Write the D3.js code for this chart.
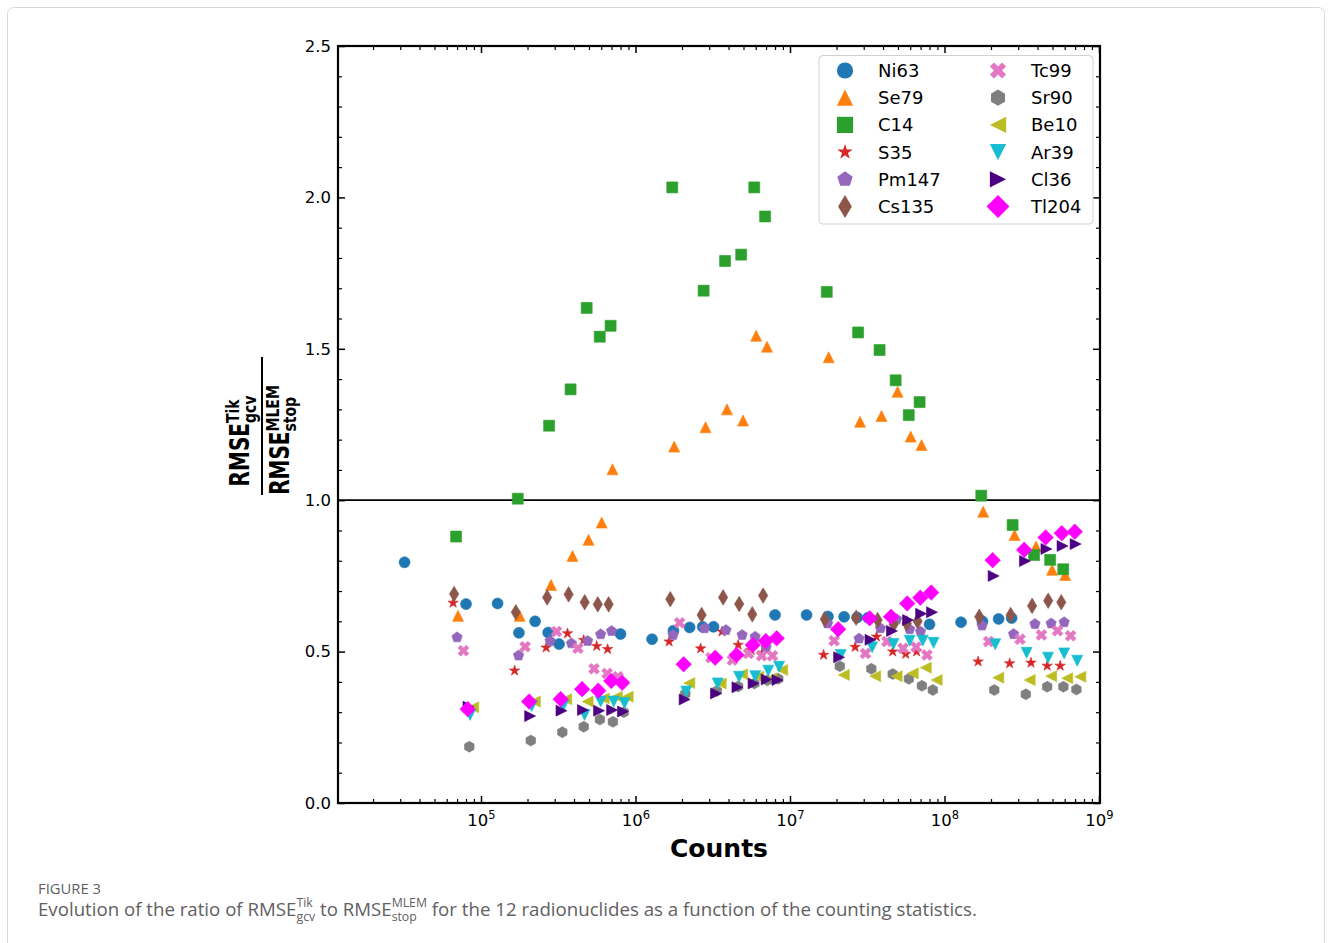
<!DOCTYPE html>
<html>
<head>
<meta charset="utf-8">
<script src="https://cdn.jsdelivr.net/npm/d3@7"></script>
<style>
  body { margin: 0; background: #fff; }
  svg { display: block; }
  text { white-space: pre; }
</style>
</head>
<body>
<svg id="chart" width="1332" height="943"></svg>
<script>
// Data: counts (x) and RMSE ratio (y) for each radionuclide

const nuclides = ['Ni63', 'Se79', 'C14', 'S35', 'Pm147', 'Cs135', 'Tc99', 'Sr90', 'Be10', 'Ar39', 'Cl36', 'Tl204']

const countsNi63 = [3.2e4, 8.0e4, 1.28e5, 1.76e5, 2.24e5, 2.72e5, 3.2e5, 8.0e5, 1.28e6, 1.76e6, 2.24e6, 2.72e6,
  3.2e6, 8.0e6, 1.28e7, 1.76e7, 2.24e7, 2.72e7, 3.2e7, 8.0e7, 1.28e8, 1.76e8, 2.24e8, 2.72e8]
const ratioNi63 = [0.795, 0.657, 0.659, 0.562, 0.600, 0.563, 0.525, 0.558, 0.541, 0.569, 0.580, 0.582,
  0.582, 0.621, 0.621, 0.616, 0.615, 0.613, 0.612, 0.590, 0.597, 0.600, 0.608, 0.611]

const countsSe79 = [7.1e4, 1.78e5, 2.84e5, 3.91e5, 4.97e5, 6.04e5, 7.1e5, 1.78e6, 2.84e6, 3.91e6, 4.97e6, 6.04e6,
  7.1e6, 1.78e7, 2.84e7, 3.91e7, 4.97e7, 6.04e7, 7.1e7, 1.78e8, 2.84e8, 3.91e8, 4.97e8, 6.04e8]
const ratioSe79 = [0.618, 0.618, 0.720, 0.816, 0.869, 0.926, 1.102, 1.177, 1.241, 1.300, 1.263, 1.543,
  1.507, 1.472, 1.259, 1.278, 1.358, 1.210, 1.182, 0.962, 0.885, 0.847, 0.770, 0.753]

const countsC14 = [6.9e4, 1.73e5, 2.76e5, 3.8e5, 4.83e5, 5.87e5, 6.9e5, 1.73e6, 2.76e6, 3.8e6, 4.83e6, 5.87e6,
  6.9e6, 1.73e7, 2.76e7, 3.8e7, 4.83e7, 5.87e7, 6.9e7, 1.73e8, 2.76e8, 3.8e8, 4.83e8, 5.87e8]
const ratioC14 = [0.880, 1.005, 1.246, 1.366, 1.635, 1.540, 1.576, 2.033, 1.692, 1.790, 1.811, 2.033,
  1.937, 1.688, 1.554, 1.496, 1.396, 1.281, 1.324, 1.015, 0.918, 0.819, 0.803, 0.772]

const countsS35 = [6.6e4, 1.65e5, 2.64e5, 3.63e5, 4.62e5, 5.61e5, 6.6e5, 1.65e6, 2.64e6, 3.63e6, 4.62e6, 5.61e6,
  6.6e6, 1.65e7, 2.64e7, 3.63e7, 4.62e7, 5.61e7, 6.6e7, 1.65e8, 2.64e8, 3.63e8, 4.62e8, 5.61e8]
const ratioS35 = [0.661, 0.437, 0.513, 0.560, 0.538, 0.518, 0.508, 0.533, 0.510, 0.566, 0.522, 0.505,
  0.495, 0.489, 0.515, 0.549, 0.500, 0.492, 0.500, 0.467, 0.461, 0.463, 0.453, 0.453]

const countsPm147 = [7.0e4, 1.75e5, 2.8e5, 3.85e5, 4.9e5, 5.95e5, 7.0e5, 1.75e6, 2.8e6, 3.85e6, 4.9e6, 5.95e6,
  7.0e6, 1.75e7, 2.8e7, 3.85e7, 4.9e7, 5.95e7, 7.0e7, 1.75e8, 2.8e8, 3.85e8, 4.9e8, 5.95e8]
const ratioPm147 = [0.547, 0.487, 0.535, 0.527, 0.535, 0.557, 0.568, 0.555, 0.577, 0.571, 0.555, 0.549,
  0.514, 0.593, 0.543, 0.577, 0.607, 0.574, 0.566, 0.586, 0.558, 0.591, 0.593, 0.597]

const countsCs135 = [6.7e4, 1.68e5, 2.68e5, 3.69e5, 4.69e5, 5.7e5, 6.7e5, 1.68e6, 2.68e6, 3.69e6, 4.69e6, 5.7e6,
  6.7e6, 1.68e7, 2.68e7, 3.69e7, 4.69e7, 5.7e7, 6.7e7, 1.68e8, 2.68e8, 3.69e8, 4.69e8, 5.7e8]
const ratioCs135 = [0.690, 0.630, 0.679, 0.689, 0.663, 0.656, 0.656, 0.673, 0.621, 0.679, 0.657, 0.623,
  0.685, 0.607, 0.612, 0.604, 0.590, 0.593, 0.600, 0.615, 0.621, 0.651, 0.668, 0.663]

const countsTc99 = [7.7e4, 1.93e5, 3.08e5, 4.24e5, 5.39e5, 6.55e5, 7.7e5, 1.93e6, 3.08e6, 4.24e6, 5.39e6, 6.55e6,
  7.7e6, 1.93e7, 3.08e7, 4.24e7, 5.39e7, 6.55e7, 7.7e7, 1.93e8, 3.08e8, 4.24e8, 5.39e8, 6.55e8]
const ratioTc99 = [0.503, 0.516, 0.566, 0.511, 0.443, 0.428, 0.417, 0.595, 0.480, 0.472, 0.494, 0.486,
  0.486, 0.536, 0.494, 0.533, 0.511, 0.515, 0.489, 0.533, 0.541, 0.555, 0.569, 0.552]

const countsSr90 = [8.4e4, 2.1e5, 3.36e5, 4.62e5, 5.88e5, 7.14e5, 8.4e5, 2.1e6, 3.36e6, 4.62e6, 5.88e6, 7.14e6,
  8.4e6, 2.1e7, 3.36e7, 4.62e7, 5.88e7, 7.14e7, 8.4e7, 2.1e8, 3.36e8, 4.62e8, 5.88e8, 7.14e8]
const ratioSr90 = [0.186, 0.206, 0.234, 0.252, 0.276, 0.268, 0.300, 0.360, 0.370, 0.385, 0.395, 0.405,
  0.410, 0.452, 0.443, 0.426, 0.410, 0.387, 0.373, 0.373, 0.359, 0.384, 0.384, 0.375]

const countsBe10 = [8.9e4, 2.23e5, 3.56e5, 4.9e5, 6.23e5, 7.57e5, 8.9e5, 2.23e6, 3.56e6, 4.9e6, 6.23e6, 7.57e6,
  8.9e6, 2.23e7, 3.56e7, 4.9e7, 6.23e7, 7.57e7, 8.9e7, 2.23e8, 3.56e8, 4.9e8, 6.23e8, 7.57e8]
const ratioBe10 = [0.316, 0.335, 0.343, 0.335, 0.345, 0.351, 0.351, 0.396, 0.395, 0.425, 0.417, 0.412,
  0.439, 0.423, 0.419, 0.419, 0.428, 0.447, 0.406, 0.414, 0.406, 0.419, 0.412, 0.417]

const countsAr39 = [8.5e4, 2.13e5, 3.4e5, 4.68e5, 5.95e5, 7.23e5, 8.5e5, 2.13e6, 3.4e6, 4.68e6, 5.95e6, 7.23e6,
  8.5e6, 2.13e7, 3.4e7, 4.68e7, 5.95e7, 7.23e7, 8.5e7, 2.13e8, 3.4e8, 4.68e8, 5.95e8, 7.23e8]
const ratioAr39 = [0.291, 0.320, 0.320, 0.291, 0.335, 0.335, 0.330, 0.368, 0.395, 0.417, 0.419, 0.437,
  0.450, 0.489, 0.514, 0.525, 0.536, 0.536, 0.529, 0.524, 0.496, 0.480, 0.494, 0.470]

const countsCl36 = [8.3e4, 2.08e5, 3.32e5, 4.57e5, 5.81e5, 7.06e5, 8.3e5, 2.08e6, 3.32e6, 4.57e6, 5.81e6, 7.06e6,
  8.3e6, 2.08e7, 3.32e7, 4.57e7, 5.81e7, 7.06e7, 8.3e7, 2.08e8, 3.32e8, 4.57e8, 5.81e8, 7.06e8]
const ratioCl36 = [0.318, 0.287, 0.305, 0.307, 0.305, 0.307, 0.302, 0.342, 0.362, 0.382, 0.395, 0.408,
  0.406, 0.481, 0.539, 0.568, 0.604, 0.625, 0.630, 0.750, 0.799, 0.839, 0.849, 0.855]

const countsTl204 = [8.2e4, 2.05e5, 3.28e5, 4.51e5, 5.74e5, 6.97e5, 8.2e5, 2.05e6, 3.28e6, 4.51e6, 5.74e6, 6.97e6,
  8.2e6, 2.05e7, 3.28e7, 4.51e7, 5.74e7, 6.97e7, 8.2e7, 2.05e8, 3.28e8, 4.51e8, 5.74e8, 6.97e8]
const ratioTl204 = [0.310, 0.335, 0.343, 0.376, 0.371, 0.403, 0.397, 0.458, 0.480, 0.489, 0.522, 0.535,
  0.544, 0.574, 0.610, 0.615, 0.659, 0.678, 0.695, 0.802, 0.836, 0.877, 0.891, 0.896]

const xMajorTicks = [1e5, 1e6, 1e7, 1e8, 1e9]
const yMajorTicks = [0, 0.5, 1.0, 1.5, 2.0, 2.5]

const seriesCounts = {
  Ni63: countsNi63, Se79: countsSe79, C14: countsC14, S35: countsS35, Pm147: countsPm147, Cs135: countsCs135,
  Tc99: countsTc99, Sr90: countsSr90, Be10: countsBe10, Ar39: countsAr39, Cl36: countsCl36, Tl204: countsTl204
}
const seriesRatio = {
  Ni63: ratioNi63, Se79: ratioSe79, C14: ratioC14, S35: ratioS35, Pm147: ratioPm147, Cs135: ratioCs135,
  Tc99: ratioTc99, Sr90: ratioSr90, Be10: ratioBe10, Ar39: ratioAr39, Cl36: ratioCl36, Tl204: ratioTl204
}

// Marker looks (matplotlib style markers)
const markerStyle = {
  Ni63: { color: '#1f77b4', shape: 'circle' },
  Se79: { color: '#ff7f0e', shape: 'triUp' },
  C14: { color: '#2ca02c', shape: 'square' },
  S35: { color: '#d62728', shape: 'star' },
  Pm147: { color: '#9467bd', shape: 'pentagon' },
  Cs135: { color: '#8c564b', shape: 'thinDiamond' },
  Tc99: { color: '#e377c2', shape: 'xFilled' },
  Sr90: { color: '#7f7f7f', shape: 'hexagon' },
  Be10: { color: '#bcbd22', shape: 'triLeft' },
  Ar39: { color: '#17becf', shape: 'triDown' },
  Cl36: { color: '#4b0082', shape: 'triRight' },
  Tl204: { color: '#ff00ff', shape: 'diamond' }
}

const W = 1332, H = 943
const plot = { left: 338, right: 1100, top: 46, bottom: 803 }
const tickFont = 'DejaVu Sans'

const svg = d3.select('#chart')

// Figure frame
svg.append('rect')
  .attr('x', 7.5).attr('y', 7.5)
  .attr('width', 1317).attr('height', 990)
  .attr('rx', 6)
  .attr('fill', '#fff')
  .attr('stroke', '#d9d9d9')

const x = d3.scaleLog()
  .domain([10 ** 4.0744, 10 ** 9.0065])
  .range([plot.left, plot.right])
const y = d3.scaleLinear()
  .domain([0, 2.5])
  .range([plot.bottom, plot.top])

// Shape helpers
const poly = (p, pts) => {
  pts.forEach((q, i) => i ? p.lineTo(q[0], q[1]) : p.moveTo(q[0], q[1]))
  p.closePath()
}
const regular = (p, n, r) => {
  poly(p, d3.range(n).map(i => {
    let a = -Math.PI / 2 + i * 2 * Math.PI / n
    return [r * Math.cos(a), r * Math.sin(a)]
  }))
}
const shapes = {
  circle: (p, s) => { p.moveTo(s / 2, 0); p.arc(0, 0, s / 2, 0, 2 * Math.PI) },
  square: (p, s) => { p.rect(-s / 2, -s / 2, s, s) },
  triUp: (p, s) => poly(p, [[0, -s / 2], [s / 2, s / 2], [-s / 2, s / 2]]),
  triDown: (p, s) => poly(p, [[0, s / 2], [s / 2, -s / 2], [-s / 2, -s / 2]]),
  triLeft: (p, s) => poly(p, [[-s / 2, 0], [s / 2, -s / 2], [s / 2, s / 2]]),
  triRight: (p, s) => poly(p, [[s / 2, 0], [-s / 2, -s / 2], [-s / 2, s / 2]]),
  pentagon: (p, s) => regular(p, 5, s / 2),
  hexagon: (p, s) => regular(p, 6, s / 2),
  star: (p, s) => {
    poly(p, d3.range(10).map(i => {
      let a = -Math.PI / 2 + i * Math.PI / 5
      let r = i % 2 ? s / 2 * 0.381966 : s / 2
      return [r * Math.cos(a), r * Math.sin(a)]
    }))
  },
  diamond: (p, s) => {
    let r = s * 0.7071
    poly(p, [[0, -r], [r, 0], [0, r], [-r, 0]])
  },
  thinDiamond: (p, s) => {
    let r = s * 0.7071
    poly(p, [[0, -r], [r * 0.6, 0], [0, r], [-r * 0.6, 0]])
  },
  xFilled: (p, s) => {
    let pts = [[0.25, 0], [0.5, 0.25], [0.75, 0], [1, 0.25], [0.75, 0.5], [1, 0.75],
      [0.75, 1], [0.5, 0.75], [0.25, 1], [0, 0.75], [0.25, 0.5], [0, 0.25]]
    poly(p, pts.map(q => [(q[0] - 0.5) * s, (q[1] - 0.5) * s]))
  }
}
const symbolPath = (shape, s) => d3.symbol()
  .type({ draw: (ctx, size) => shapes[shape](ctx, size) })
  .size(s)()

// Axes: ticks inward on all four sides
const xMinorTicks = []
for (let k = 4; k <= 8; k++) {
  for (let m = 2; m <= 9; m++) {
    let v = m * 10 ** k
    if (v >= x.domain()[0] && v <= x.domain()[1]) xMinorTicks.push(v)
  }
}
const yMinorTicks = d3.range(0, 26).map(i => i / 10).filter(v => Math.round(v * 10) % 5 !== 0)

const styleAxis = (g, width) => {
  g.select('.domain').remove()
  g.selectAll('.tick line').attr('stroke', '#000').attr('stroke-width', width)
  g.selectAll('.tick text')
    .attr('fill', '#000')
    .style('font-family', tickFont)
    .style('font-size', '16.5px')
}

// bottom
svg.append('g')
  .attr('transform', `translate(0,${plot.bottom})`)
  .call(d3.axisBottom(x).tickValues(xMinorTicks).tickSize(-4).tickFormat(''))
  .call(g => styleAxis(g, 1.2))
svg.append('g')
  .attr('transform', `translate(0,${plot.bottom})`)
  .call(d3.axisBottom(x).tickValues(xMajorTicks).tickSize(-7).tickPadding(11).tickFormat(() => '10'))
  .call(g => styleAxis(g, 1.5))
  .call(g => g.selectAll('.tick text')
    .append('tspan')
    .attr('dy', '-0.62em')
    .style('font-size', '11.5px')
    .text(d => Math.round(Math.log10(d))))

// top
svg.append('g')
  .attr('transform', `translate(0,${plot.top})`)
  .call(d3.axisTop(x).tickValues(xMinorTicks).tickSize(-4).tickFormat(''))
  .call(g => styleAxis(g, 1.2))
svg.append('g')
  .attr('transform', `translate(0,${plot.top})`)
  .call(d3.axisTop(x).tickValues(xMajorTicks).tickSize(-7).tickFormat(''))
  .call(g => styleAxis(g, 1.5))

// left
svg.append('g')
  .attr('transform', `translate(${plot.left},0)`)
  .call(d3.axisLeft(y).tickValues(yMinorTicks).tickSize(-4).tickFormat(''))
  .call(g => styleAxis(g, 1.2))
svg.append('g')
  .attr('transform', `translate(${plot.left},0)`)
  .call(d3.axisLeft(y).tickValues(yMajorTicks).tickSize(-7).tickPadding(7).tickFormat(d3.format('.1f')))
  .call(g => styleAxis(g, 1.5))

// right
svg.append('g')
  .attr('transform', `translate(${plot.right},0)`)
  .call(d3.axisRight(y).tickValues(yMinorTicks).tickSize(-4).tickFormat(''))
  .call(g => styleAxis(g, 1.2))
svg.append('g')
  .attr('transform', `translate(${plot.right},0)`)
  .call(d3.axisRight(y).tickValues(yMajorTicks).tickSize(-7).tickFormat(''))
  .call(g => styleAxis(g, 1.5))

// Reference line at ratio = 1
svg.append('line')
  .attr('x1', plot.left).attr('x2', plot.right)
  .attr('y1', y(1)).attr('y2', y(1))
  .attr('stroke', '#000')
  .attr('stroke-width', 1.7)

// Points, one group per nuclide, drawn in legend order
const markerSize = 11
nuclides.forEach(name => {
  let st = markerStyle[name]
  let pts = d3.zip(seriesCounts[name], seriesRatio[name])
  svg.append('g')
    .attr('class', 'series ' + name)
    .selectAll('path')
    .data(pts)
    .join('path')
    .attr('transform', d => `translate(${x(d[0])},${y(d[1])})`)
    .attr('d', symbolPath(st.shape, markerSize))
    .attr('fill', st.color)
    .attr('stroke', st.color)
    .attr('stroke-width', 0.6)
})

// Spines
svg.append('rect')
  .attr('x', plot.left).attr('y', plot.top)
  .attr('width', plot.right - plot.left)
  .attr('height', plot.bottom - plot.top)
  .attr('fill', 'none')
  .attr('stroke', '#000')
  .attr('stroke-width', 2.2)

// Legend
const legend = svg.append('g').attr('class', 'legend')
legend.append('rect')
  .attr('x', 819).attr('y', 55.5)
  .attr('width', 274).attr('height', 168.5)
  .attr('rx', 4)
  .attr('fill', '#fff')
  .attr('stroke', '#d0d0d0')
nuclides.forEach((name, i) => {
  let col = Math.floor(i / 6), row = i % 6
  let cx = 845 + col * 153, cy = 70.5 + row * 27.2
  let st = markerStyle[name]
  legend.append('path')
    .attr('transform', `translate(${cx},${cy})`)
    .attr('d', symbolPath(st.shape, 10.8 * 1.5))
    .attr('fill', st.color)
  legend.append('text')
    .attr('x', cx + 33)
    .attr('y', cy + 6.5)
    .style('font-family', tickFont)
    .style('font-size', '18px')
    .text(name)
})

// Rich text with stacked super/subscripts, laid out left to right
const richLine = (g, parts, font) => {
  let cx = 0
  parts.forEach(p => {
    if (p.sup !== undefined) {
      let a = g.append('text').attr('x', cx).attr('y', font.supDy)
        .style('font-size', font.small + 'px').text(p.sup)
      let b = g.append('text').attr('x', cx).attr('y', font.subDy)
        .style('font-size', font.small + 'px').text(p.sub)
      cx += Math.max(a.node().getComputedTextLength(), b.node().getComputedTextLength())
    } else {
      let t = g.append('text').attr('x', cx).attr('y', 0)
        .style('font-size', font.big + 'px').text(p.t)
      cx += t.node().getComputedTextLength()
    }
  })
  return cx
}

// X axis title
svg.append('text')
  .attr('x', (plot.left + plot.right) / 2)
  .attr('y', 857)
  .attr('text-anchor', 'middle')
  .style('font-family', tickFont)
  .style('font-weight', 'bold')
  .style('font-size', '25px')
  .text('Counts')

// Y axis title: fraction RMSE_gcv^Tik / RMSE_stop^MLEM, rotated
const yTitle = svg.append('g')
  .attr('transform', 'translate(262,426) rotate(-90)')
  .style('font-family', tickFont)
  .style('font-weight', 'bold')
const yFont = { big: 20, small: 14, supDy: -8, subDy: 5 }
const num = yTitle.append('g')
let wNum = richLine(num, [{ t: 'RMSE' }, { sup: 'Tik', sub: 'gcv' }], yFont)
num.attr('transform', `translate(${-15 - wNum / 2},-13) scale(1,1.3)`)
const den = yTitle.append('g')
let wDen = richLine(den, [{ t: 'RMSE' }, { sup: 'MLEM', sub: 'stop' }], yFont)
den.attr('transform', `translate(${-14 - wDen / 2},27) scale(1,1.3)`)
yTitle.append('line')
  .attr('x1', -69).attr('x2', 69)
  .attr('stroke', '#000')
  .attr('stroke-width', 2)

// Caption
const capColor = '#5f6062'
const figLabel = svg.append('text')
  .attr('x', 0).attr('y', 0)
  .style('font-family', 'Open Sans')
  .style('font-size', '15px')
  .style('font-weight', 500)
  .attr('fill', capColor)
  .text('FIGURE 3')
let wLabel = figLabel.node().getComputedTextLength()
figLabel.attr('transform', `translate(38,893.5) scale(${63 / wLabel},1)`)

const caption = svg.append('g')
  .style('font-family', 'Open Sans')
  .attr('fill', capColor)
let wCap = richLine(caption, [
  { t: 'Evolution of the ratio of RMSE' },
  { sup: 'Tik', sub: 'gcv' },
  { t: ' to RMSE' },
  { sup: 'MLEM', sub: 'stop' },
  { t: ' for the 12 radionuclides as a function of the counting statistics.' }
], { big: 19, small: 12.5, supDy: -9, subDy: 5 })
caption.attr('transform', `translate(38,915.5) scale(${939 / wCap},1)`)
</script>
</body>
</html>
